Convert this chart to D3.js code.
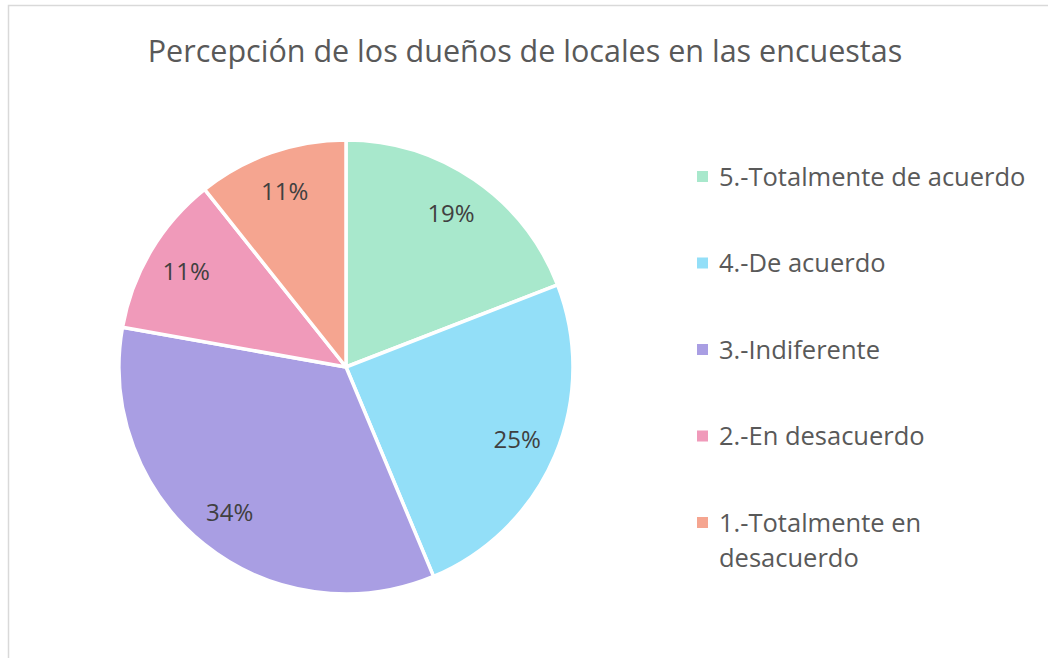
<!DOCTYPE html>
<html>
  <head>
    <meta charset="utf-8">
    <title>Percepción</title>
    <script src="https://d3js.org/d3.v7.min.js"></script>
    <style>
      body { margin: 0; background: #fff; }
      text { font-family: "Open Sans", sans-serif; }
    </style>
  </head>
  <body>
    <script>
      // data
      const categories = [
        "5.-Totalmente de acuerdo",
        "4.-De acuerdo",
        "3.-Indiferente",
        "2.-En desacuerdo",
        "1.-Totalmente en desacuerdo"
      ];
      const values = [19.1, 24.6, 34.1, 11.5, 10.7];
      const colors = ["#a8e8cc", "#93dff8", "#a99ee3", "#f09aba", "#f5a590"];
      const title = "Percepción de los dueños de locales en las encuestas";

      const width = 1048;
      const height = 658;
      const cx = 346, cy = 367, radius = 227;

      const svg = d3.select("body")
        .append("svg")
          .attr("width", width)
          .attr("height", height);

      // chart frame (right and bottom edges run off the picture)
      svg.append("rect")
        .attr("x", 8.5)
        .attr("y", 5.5)
        .attr("width", 1060)
        .attr("height", 700)
        .attr("fill", "#fff")
        .attr("stroke", "#d9d9d9")
        .attr("stroke-width", 1.5);

      svg.append("text")
        .attr("x", 525)
        .attr("y", 62)
        .attr("text-anchor", "middle")
        .attr("fill", "#595959")
        .style("font-size", "30.5px")
        .text(title);

      const pie = d3.pie().sort(null).value(d => d);
      const arcs = pie(values);
      const total = d3.sum(values);

      const arc = d3.arc().innerRadius(0).outerRadius(radius);
      const labelArc = d3.arc().innerRadius(186).outerRadius(186);

      const g = svg.append("g")
        .attr("transform", "translate(" + cx + "," + cy + ")");

      g.selectAll("path")
        .data(arcs)
        .enter().append("path")
          .attr("d", arc)
          .attr("fill", (d, i) => colors[i])
          .attr("stroke", "#fff")
          .attr("stroke-width", 3.5)
          .attr("stroke-linejoin", "round");

      g.selectAll("text.lbl")
        .data(arcs)
        .enter().append("text")
          .attr("class", "lbl")
          .attr("transform", d => "translate(" + labelArc.centroid(d) + ")")
          .attr("text-anchor", "middle")
          .attr("dy", "0.35em")
          .attr("fill", "#404040")
          .style("font-size", "24px")
          .text(d => Math.round(d.data / total * 100) + "%");

      // legend
      const legendY = d3.scalePoint()
        .domain(categories)
        .range([177, 523]);

      const legend = svg.append("g");
      const item = legend.selectAll("g")
        .data(categories)
        .enter().append("g")
          .attr("transform", d => "translate(697," + legendY(d) + ")");

      item.append("rect")
        .attr("x", 0)
        .attr("y", -6)
        .attr("width", 11)
        .attr("height", 11)
        .attr("fill", (d, i) => colors[i]);

      item.append("text")
        .attr("x", 22)
        .attr("dy", "0.35em")
        .attr("fill", "#595959")
        .style("font-size", "25.5px")
        .each(function(d) {
          const t = d3.select(this);
          if (d === "1.-Totalmente en desacuerdo") {
            t.append("tspan").attr("x", 22).text("1.-Totalmente en");
            t.append("tspan").attr("x", 22).attr("dy", "1.37em").text("desacuerdo");
          } else {
            t.text(d);
          }
        });
    </script>
  </body>
</html>
